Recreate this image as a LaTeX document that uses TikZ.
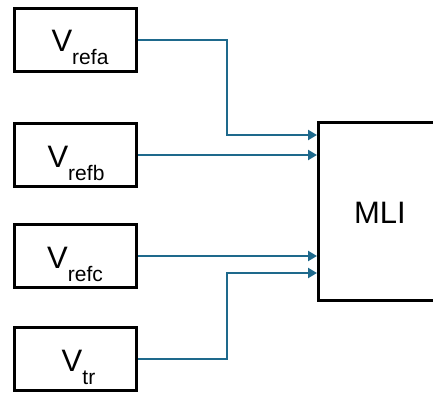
\documentclass[tikz,border=0pt]{standalone}
\usepackage{fontspec}
\setmainfont{Liberation Sans}
\usetikzlibrary{arrows.meta}
\definecolor{wirecol}{RGB}{30,105,140}
\newcommand{\bigtxt}{\fontsize{31}{31}\selectfont}
\newcommand{\subtxt}[1]{\raisebox{-13pt}{\fontsize{21}{21}\selectfont #1}}
\begin{document}
\begin{tikzpicture}[x=1pt,y=-1pt,
  srcbox/.style={draw=black, line width=3pt, minimum width=122pt, minimum height=63pt, inner sep=0pt},
  mlibox/.style={draw=black, line width=3pt, minimum width=127pt, minimum height=178pt, inner sep=0pt},
  lbl/.style={anchor=base, inner sep=0pt, font=\bigtxt},
  wire/.style={draw=wirecol, line width=2.5pt, -{Triangle[length=9pt,width=10pt]}}]
\useasboundingbox (0,0) rectangle (433,393);
\clip (0,0) rectangle (433,393);
\node[srcbox] (a) at (75.5,40) {};
\node[srcbox] (b) at (75.5,155) {};
\node[srcbox] (c) at (75.5,256) {};
\node[srcbox] (tr) at (75.5,359) {};
\node[lbl] (ta) at (80,52) {V\subtxt{refa}};
\node[lbl] (tb) at (76,167) {V\subtxt{refb}};
\node[lbl] (tc) at (75,268) {V\subtxt{refc}};
\node[lbl] (ttr) at (78.5,371) {V\subtxt{tr}};
\node[mlibox] (mli) at (381.5,211.5) {};
\node[lbl] (tmli) at (380,223) {MLI};
\coordinate (ia) at (317,135);
\coordinate (ib) at (317,155);
\coordinate (ic) at (317,256);
\coordinate (id) at (317,273);
\draw[wire] (a.east) -| ([xshift=-90pt]ia) -- (ia);
\draw[wire] (b.east) -- (ib);
\draw[wire] (c.east) -- (ic);
\draw[wire] (tr.east) -| ([xshift=-90pt]id) -- (id);
\end{tikzpicture}
\end{document}
